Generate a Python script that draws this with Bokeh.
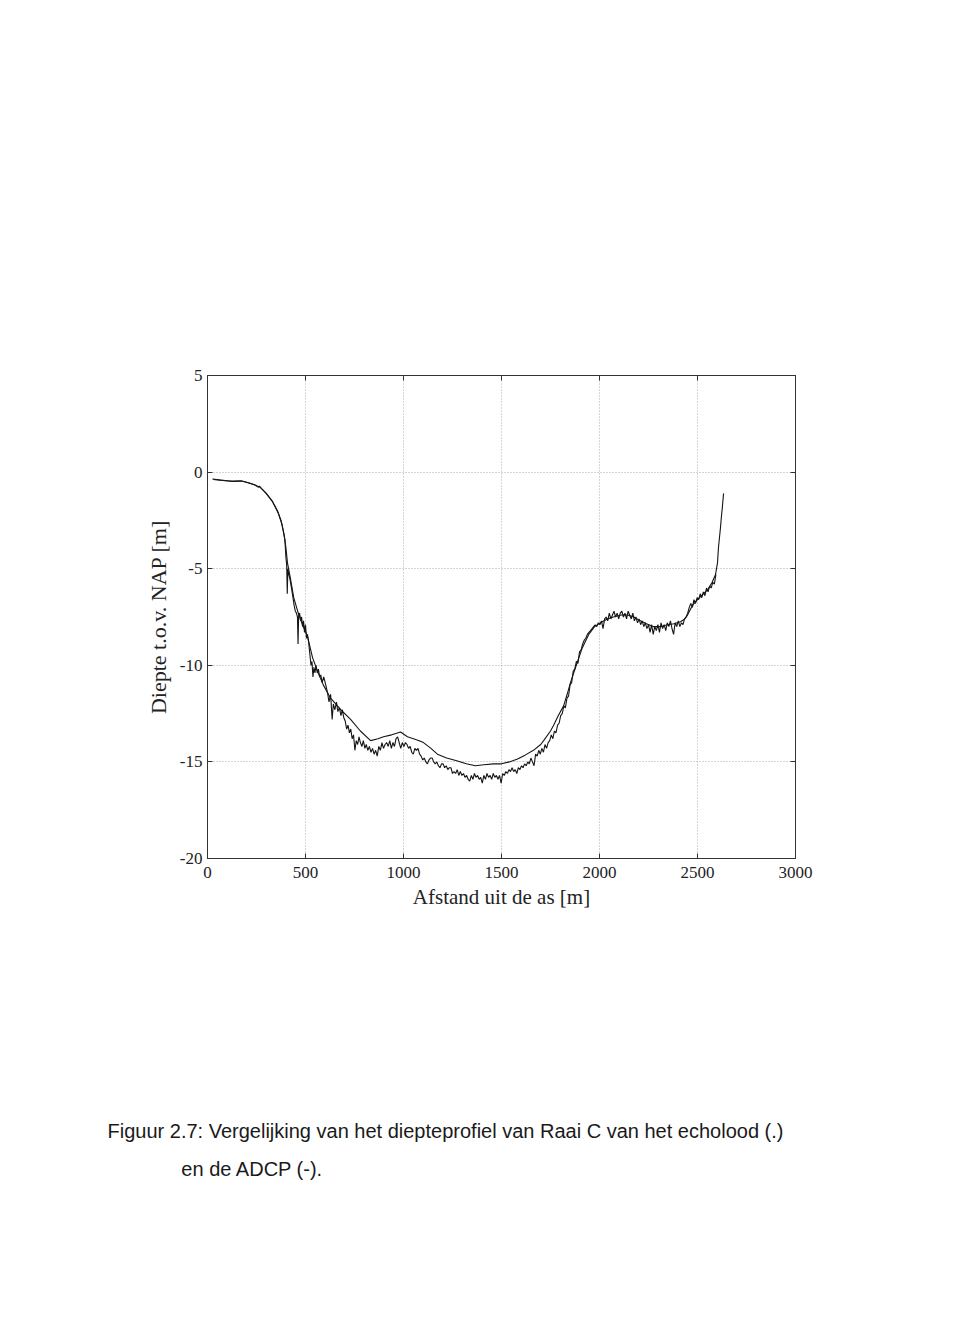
from bokeh.plotting import figure
from bokeh.models import FixedTicker, LinearAxis, Range1d
from bokeh.layouts import column
from bokeh.embed import file_html
from bokeh.resources import INLINE

# ---------------- data ----------------
x_ticks = [0, 500, 1000, 1500, 2000, 2500, 3000]
y_ticks = [-20, -15, -10, -5, 0, 5]
y_tick_labels = ["-20", "-15", "-10", "-5", "0", "5"]

# ADCP profile (smooth line)
adcp_x = [25, 60, 100, 135, 170, 210, 250, 270, 300, 330, 357, 375, 390, 400, 408, 423,
          440, 460, 485, 510, 536, 561, 590, 628, 680, 730, 780, 832, 870, 898, 940, 985,
          1020, 1051, 1080, 1102, 1140, 1173, 1220, 1276, 1320, 1367, 1410, 1459, 1500,
          1540, 1582, 1620, 1663, 1700, 1715, 1750, 1766, 1790, 1817, 1835, 1852, 1878,
          1912, 1945, 1975, 2005, 2040, 2071, 2110, 2143, 2175, 2209, 2240, 2276, 2310,
          2347, 2380, 2413, 2435, 2449, 2474, 2500, 2530, 2551, 2575, 2592, 2602, 2607,
          2612, 2617, 2622, 2627, 2633]
adcp_y = [-0.36, -0.40, -0.45, -0.48, -0.45, -0.55, -0.70, -0.80, -1.1, -1.5, -2.0, -2.5,
          -3.2, -3.9, -4.7, -5.5, -6.5, -7.2, -7.9, -8.5, -9.6, -10.3, -11.0, -11.7, -12.3,
          -12.8, -13.4, -13.9, -13.8, -13.7, -13.6, -13.45, -13.7, -13.8, -13.9, -14.0,
          -14.3, -14.6, -14.8, -14.95, -15.1, -15.2, -15.15, -15.1, -15.1, -15.0, -14.85,
          -14.65, -14.4, -14.1, -13.9, -13.4, -13.1, -12.6, -12.1, -11.5, -10.9, -10.1,
          -9.1, -8.4, -8.0, -7.8, -7.6, -7.5, -7.4, -7.4, -7.5, -7.7, -7.85, -8.0, -8.0,
          -7.9, -7.85, -7.75, -7.6, -7.4, -6.9, -6.6, -6.3, -6.1, -5.7, -5.3, -4.7, -3.9,
          -3.4, -2.9, -2.3, -1.8, -1.1]

# Echolood profile (noisy line)
echo_x = [30, 60, 90, 120, 150, 180, 210, 240, 260, 265, 280, 300, 330, 360, 380, 395,
          400, 404, 407, 410, 415, 420, 425, 430, 436, 442, 448, 454, 459, 462, 465, 470,
          475, 480, 485, 490, 495, 500, 505, 510, 516, 522, 528, 533, 538, 543, 548, 554,
          560, 566, 572, 578, 585, 593,
          603, 612, 620, 628, 636, 642, 650, 658, 665, 673, 681, 688, 695, 703, 710, 717,
          724, 731, 738, 745, 752, 759, 766, 773, 780, 788, 795, 803, 810, 818, 826, 834,
          842, 850, 858, 866, 874, 882, 890, 898, 906,
          914, 922, 930, 938, 946, 954, 962, 970, 978, 986, 994, 1002, 1010, 1018, 1026,
          1034, 1042, 1050, 1058, 1066, 1074, 1082, 1090, 1098, 1106, 1114, 1122, 1130,
          1138, 1146, 1154, 1162, 1170, 1178, 1186, 1194, 1202, 1210, 1218, 1226, 1234,
          1242, 1250, 1258, 1266, 1274, 1282, 1290, 1298, 1306, 1314, 1322, 1330, 1338,
          1346, 1354, 1362, 1370, 1378, 1386, 1394, 1402, 1410, 1418, 1426, 1434, 1442,
          1450, 1458, 1466, 1474, 1482, 1490, 1498, 1506, 1514, 1522, 1530, 1538, 1546,
          1554, 1562, 1570, 1578, 1586, 1594, 1602, 1610, 1618, 1626, 1634, 1642, 1650,
          1658, 1666, 1674,
          1682, 1690, 1698, 1706, 1714, 1722, 1730, 1738, 1746, 1754, 1762, 1770, 1778,
          1786, 1794, 1802, 1810, 1818, 1826, 1834, 1842, 1850, 1858, 1866, 1874, 1882,
          1890, 1898, 1906, 1914, 1922, 1930, 1938, 1946, 1954, 1962, 1970, 1978, 1986,
          1994, 2002, 2010, 2018, 2026, 2034, 2042, 2050, 2058, 2066, 2074, 2082, 2090,
          2098, 2106, 2114, 2122, 2130, 2138, 2146, 2154, 2162, 2170, 2178, 2186, 2194,
          2202, 2210, 2218, 2226, 2234, 2242, 2250, 2258, 2266, 2274, 2282, 2290, 2298,
          2306, 2314, 2322, 2330, 2338, 2346, 2354, 2362, 2370, 2378, 2386, 2394, 2402,
          2410, 2418, 2426, 2434, 2442, 2450, 2458, 2466, 2474, 2482, 2490, 2498, 2506,
          2514, 2522, 2530, 2538, 2546, 2554, 2562, 2570, 2578, 2586, 2594]
echo_y = [-0.38, -0.42, -0.44, -0.47, -0.46, -0.47, -0.56, -0.66, -0.78, -0.72, -0.9,
          -1.12, -1.5, -2.1, -2.7, -3.5,
          -4.4, -4.8, -6.3, -5.0, -5.3, -5.5, -5.8, -6.1, -6.5, -6.9, -7.2, -7.3, -7.5,
          -8.9, -7.4, -7.3, -7.7, -7.5, -8.0, -7.7, -8.3, -7.9, -8.6, -8.4, -8.8, -9.4,
          -10.0, -9.8, -10.6, -10.1, -10.4, -10.0, -10.4, -10.2, -10.6, -10.5, -10.9, -10.6,
          -11.0, -11.4, -11.9, -11.5, -12.8, -12.0, -12.3, -11.9, -12.4, -12.2, -12.6,
          -12.3, -12.7, -12.9, -13.3, -13.1, -13.5, -13.3, -13.8, -13.6, -14.4, -13.9,
          -14.1, -13.7, -14.0, -14.2, -13.9, -14.3, -14.1, -14.4, -14.2, -14.5, -14.3,
          -14.6, -14.4, -14.7, -14.2, -14.4, -14.0, -14.3, -14.1,
          -14.0, -14.2, -13.9, -14.3, -14.0, -14.2, -13.8, -13.7, -14.0, -14.3, -14.0,
          -14.2, -14.0, -14.1, -14.3, -14.2, -14.5, -14.6, -14.3, -14.4, -14.3, -14.6,
          -14.7, -14.9, -14.8, -15.0, -15.1, -14.9, -14.8, -14.8, -15.0, -15.1, -15.0,
          -15.2, -15.3, -15.1, -15.1, -15.3, -15.2, -15.4, -15.3, -15.3, -15.6, -15.5,
          -15.6, -15.4, -15.7, -15.5, -15.7, -15.6, -15.8, -15.7, -15.9, -16.0, -15.7,
          -15.9, -15.6, -15.8, -15.7, -15.9, -15.8, -16.1, -15.7, -15.9, -15.6, -15.8,
          -15.7, -15.9, -15.6, -15.8, -15.7, -15.9, -15.7, -16.1, -15.6, -15.7, -15.5,
          -15.6, -15.4, -15.5, -15.3, -15.5, -15.4, -15.6, -15.3, -15.4, -15.2, -15.3,
          -15.1, -15.2, -15.0, -15.1, -14.8, -15.0, -15.2, -14.6,
          -14.7, -14.4, -14.6, -14.3, -14.5, -14.1, -14.3, -14.0, -13.9, -13.6, -13.8,
          -13.4, -13.5, -13.1, -13.0, -12.6, -12.5, -12.1, -12.2, -11.7, -11.6, -11.0,
          -10.9, -10.3, -10.2, -9.8, -9.9, -9.3, -9.2, -8.9, -8.7, -8.6, -8.4, -8.3,
          -8.2, -8.1, -8.0, -7.9, -8.0, -7.8, -7.9, -7.7, -8.1, -7.6, -7.5, -7.7, -7.3,
          -7.6, -7.4, -7.2, -7.5, -7.3, -7.6, -7.3, -7.2, -7.5, -7.3, -7.6, -7.2, -7.4,
          -7.6, -7.3, -7.7, -7.5, -7.8, -7.6, -7.9, -7.7, -8.0, -7.8, -8.1, -7.9, -8.3,
          -7.9, -8.4, -8.0, -8.2, -7.9, -8.3, -7.8, -8.1, -7.9, -8.2, -7.8, -8.0, -7.7,
          -8.1, -8.4, -7.8, -8.0, -7.7, -8.0, -7.8, -7.9, -7.6, -7.5, -7.3, -7.0, -6.8,
          -7.0, -6.6, -6.8, -6.5, -6.6, -6.3, -6.5, -6.2, -6.4, -6.0, -6.2, -5.9, -6.0,
          -5.7, -5.8, -5.3]

caption_lines = ["Figuur 2.7: Vergelijking van het diepteprofiel van Raai C van het echolood (.)",
                 "en de ADCP (-)."]
x_label = "Afstand uit de as [m]"
y_label = "Diepte t.o.v. NAP [m]"

# ---------------- chart ----------------
SERIF = "Liberation Serif"
p = figure(width=960, height=1100, x_range=(0, 3000), y_range=(-20, 5),
           output_backend="svg", toolbar_location=None,
           min_border_left=207, min_border_right=165,
           min_border_top=375, min_border_bottom=242,
           background_fill_color="white", border_fill_color="white")
p.outline_line_color = "#333333"
p.outline_line_width = 1

p.line(adcp_x, adcp_y, line_color="#151515", line_width=1.1)
p.line(echo_x, echo_y, line_color="#151515", line_width=1.1)

for ax in (p.xaxis[0], p.yaxis[0]):
    ax.major_tick_in = 5
    ax.major_tick_out = 0
    ax.minor_tick_line_color = None
    ax.axis_line_color = "#333333"
    ax.major_tick_line_color = "#333333"
    ax.major_label_text_font = SERIF
    ax.major_label_text_font_size = "17px"
    ax.major_label_text_color = "#222222"
    ax.axis_label_text_font = SERIF
    ax.axis_label_text_font_style = "normal"
    ax.axis_label_text_color = "#222222"

p.xaxis.ticker = FixedTicker(ticks=x_ticks)
p.yaxis.ticker = FixedTicker(ticks=y_ticks)
p.yaxis.major_label_overrides = {t: s for t, s in zip(y_ticks, y_tick_labels)}
p.xaxis.axis_label = x_label
p.yaxis.axis_label = y_label
p.xaxis.axis_label_text_font_size = "21px"
p.yaxis.axis_label_text_font_size = "22px"
p.xaxis.major_label_standoff = 8
p.yaxis.major_label_standoff = 5
p.xaxis.axis_label_standoff = 4
p.yaxis.axis_label_standoff = 6

# right / top axes with inward ticks, no labels
for loc, ticks in (("right", y_ticks), ("above", x_ticks)):
    a = LinearAxis(ticker=FixedTicker(ticks=ticks))
    a.major_tick_in = 5
    a.major_tick_out = 0
    a.minor_tick_line_color = None
    a.axis_line_color = "#333333"
    a.major_tick_line_color = "#333333"
    a.major_label_text_font_size = "0px"
    a.major_label_text_alpha = 0
    p.add_layout(a, loc)

p.xgrid.ticker = FixedTicker(ticks=x_ticks)
p.ygrid.ticker = FixedTicker(ticks=y_ticks)
p.grid.grid_line_color = "#aaaaaa"
p.grid.grid_line_dash = "1 2"
p.grid.grid_line_width = 1

# ---------------- caption (text strip below the chart, pixel-scaled x range) ----------------
cap_centers = [445, 252]   # horizontal centre of each caption line, in page pixels
cap = figure(width=960, height=240, x_range=Range1d(207, 795), y_range=Range1d(0, 1),
             output_backend="svg", toolbar_location=None,
             x_axis_type=None, y_axis_type=None,
             min_border_left=207, min_border_right=165,
             min_border_top=45, min_border_bottom=185,
             background_fill_color="white", border_fill_color="white")
cap.outline_line_color = None
cap.grid.visible = False
for loc, centre, line, standoff in (("above", cap_centers[0], caption_lines[0], 4),
                                    ("below", cap_centers[1], caption_lines[1], 2)):
    a = LinearAxis(ticker=FixedTicker(ticks=[centre]),
                   major_label_overrides={centre: line})
    a.axis_line_color = None
    a.major_tick_line_color = None
    a.minor_tick_line_color = None
    a.major_tick_in = 0
    a.major_tick_out = 0
    a.major_label_standoff = standoff
    a.major_label_text_font = "Liberation Sans"
    a.major_label_text_font_size = "20px"
    a.major_label_text_color = "#1a1a1a"
    cap.add_layout(a, loc)

layout = column(p, cap, spacing=0)
open("out.html", "w").write(file_html(layout, INLINE))
